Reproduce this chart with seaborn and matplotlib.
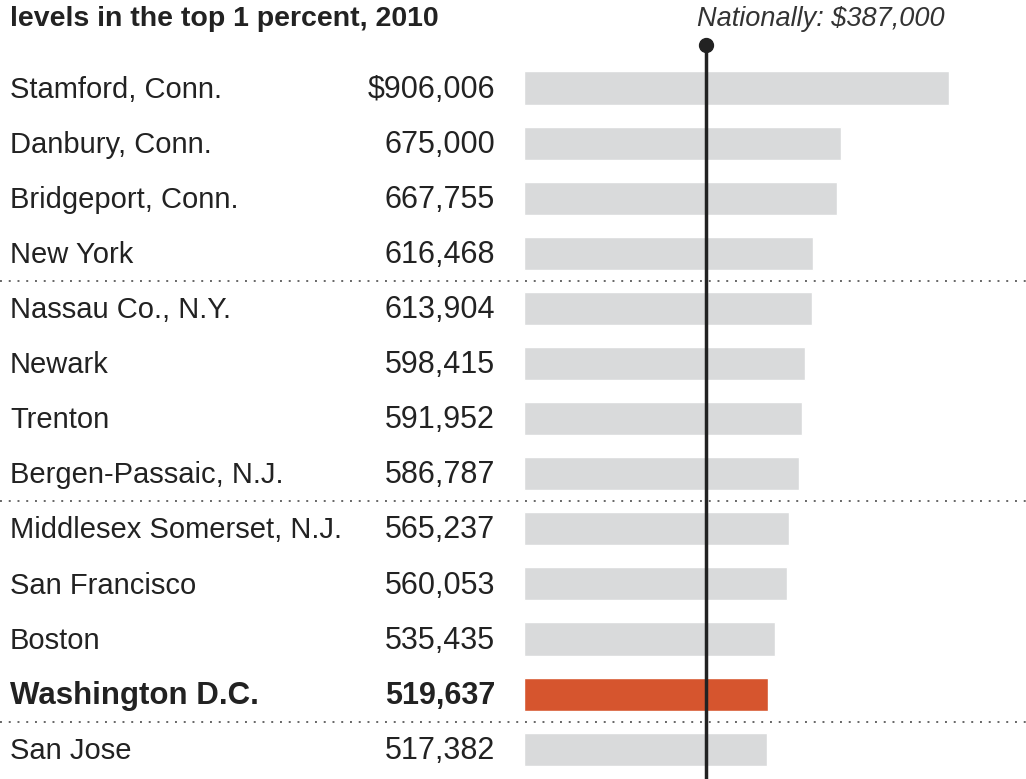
import matplotlib
matplotlib.use("Agg")
import matplotlib.pyplot as plt
import seaborn as sns
import pandas as pd
from matplotlib.transforms import blended_transform_factory
from matplotlib.lines import Line2D

cities = ["Stamford, Conn.", "Danbury, Conn.", "Bridgeport, Conn.", "New York",
          "Nassau Co., N.Y.", "Newark", "Trenton", "Bergen-Passaic, N.J.",
          "Middlesex Somerset, N.J.", "San Francisco", "Boston", "Washington D.C.",
          "San Jose"]
values = [906006, 675000, 667755, 616468, 613904, 598415, 591952, 586787,
          565237, 560053, 535435, 519637, 517382]
value_labels = ["$906,006", "675,000", "667,755", "616,468", "613,904", "598,415",
                "591,952", "586,787", "565,237", "560,053", "535,435", "519,637",
                "517,382"]
highlight = "Washington D.C."
national = 387000
title = "levels in the top 1 percent, 2010"
national_label = "Nationally: $387,000"
separators_after = ["New York", "Bergen-Passaic, N.J.", "Washington D.C."]

W, H = 1026, 779
GRAY = "#d9dadb"
ORANGE = "#d6552e"
TEXT = "#222222"

sns.set_style("white")
plt.rcParams["font.family"] = ["Liberation Sans", "DejaVu Sans"]

fig = plt.figure(figsize=(W / 100, H / 100), dpi=100)
x0_px = 524
ax = fig.add_axes([x0_px / W, 0, 1 - x0_px / W, 1])

df = pd.DataFrame({"city": cities, "value": values})
df["group"] = ["hi" if c == highlight else "base" for c in cities]
sns.barplot(data=df, x="value", y="city", hue="group",
            palette={"hi": ORANGE, "base": GRAY}, width=0.6, dodge=False,
            legend=False, ax=ax, saturation=1)

# scale: 906006 -> 949 px
px_per = (949 - x0_px) / values[0]
ax.set_xlim(0, (W - x0_px) / px_per)
row0, step = 88, 55.1
ax.set_ylim((H - row0) / step, -row0 / step)
ax.axis("off")

trans = blended_transform_factory(fig.transFigure, ax.transData)
for i, (c, vl) in enumerate(zip(cities, value_labels)):
    is_hi = c == highlight
    bold = "bold" if is_hi else "normal"
    ax.text(10 / W, i + 0.03, c, transform=trans, ha="left", va="center",
            fontsize=22.5 if is_hi else 21, color=TEXT, fontweight=bold)
    ax.text(495 / W, i + 0.03, vl, transform=trans, ha="right", va="center",
            fontsize=22, color=TEXT, fontweight=bold)

for c in separators_after:
    i = cities.index(c)
    fig.add_artist(Line2D([0, 1], [i + 0.5, i + 0.5], transform=trans,
                          color="#666666", linewidth=1.4,
                          linestyle=(0, (1, 3.5))))

# national line
dot_y = -(row0 - 45) / step
ax.plot([national, national], [dot_y, (H - row0) / step], color=TEXT,
        linewidth=2.5, clip_on=False, solid_capstyle="butt")
ax.plot([national], [dot_y], marker="o", markersize=10, color=TEXT, clip_on=False)
ax.text(697 / W, -(row0 - 19) / step, national_label, transform=trans,
        ha="left", va="center", fontsize=19.5, style="italic", color="#333333")

fig.text(10 / W, 1 - 19 / H, title, ha="left", va="center", fontsize=20.5,
         fontweight="bold", color=TEXT)

fig.savefig("out.png", dpi=100)
